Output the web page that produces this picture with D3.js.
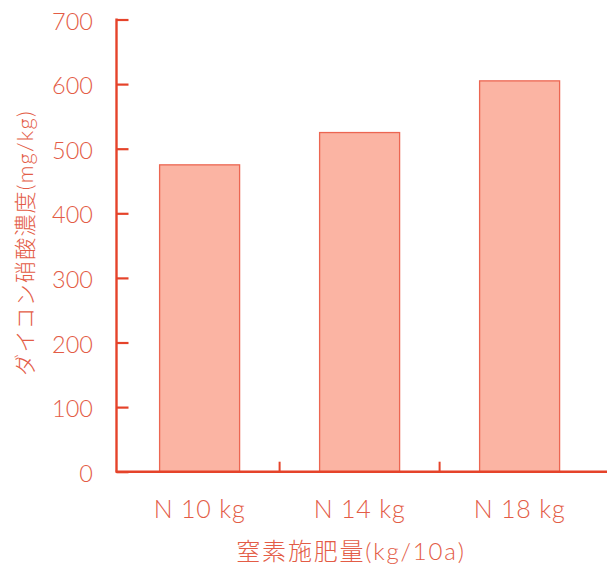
<!DOCTYPE html>
<html><head><meta charset="utf-8">
<script src="https://cdn.jsdelivr.net/npm/d3@7"></script>
<style>
html,body{margin:0;padding:0;background:#fff;}
text{font-family:"Lato","Noto Sans","Noto Sans CJK JP",sans-serif;}
</style></head>
<body><svg id="c" width="607" height="564"></svg>
<script>
const categories = ["N 10 kg", "N 14 kg", "N 18 kg"];
const values = [475, 525, 605];
const yTicks = [0, 100, 200, 300, 400, 500, 600, 700];
const yTitle = "ダイコン硝酸濃度(mg/kg)";
const xTitle = "窒素施肥量(kg/10a)";

const axisColor = "#e5432a", textColor = "#e35c46", barFill = "#fbb4a3", barStroke = "#ec6652";
const svg = d3.select("#c");
const x0 = 116.5, xEnd = 607, yTop = 19.5, yBot = 471.7;

const x = d3.scaleBand().domain(categories).range([119.6, 599.6]).paddingInner(0.5).paddingOuter(0.25);
const y = d3.scaleLinear().domain([0, 700]).range([yBot, yTop]);

// bars
svg.selectAll("rect.bar").data(values).join("rect")
  .attr("class", "bar")
  .attr("x", (d, i) => x(categories[i]))
  .attr("width", x.bandwidth())
  .attr("y", d => y(d))
  .attr("height", d => y(0) - y(d))
  .attr("fill", barFill).attr("stroke", barStroke).attr("stroke-width", 1.3);

// y axis
const yAxis = d3.axisRight(y).tickValues(yTicks).tickSize(12).tickFormat("");
const ga = svg.append("g").attr("transform", `translate(${x0},0)`).call(yAxis);
ga.select(".domain").remove();
ga.selectAll(".tick line").attr("stroke", axisColor).attr("stroke-width", 2.2);
svg.append("line").attr("x1", x0).attr("x2", x0).attr("y1", yTop - 1).attr("y2", yBot)
  .attr("stroke", axisColor).attr("stroke-width", 2.4);
svg.selectAll("text.ytl").data(yTicks).join("text").attr("class", "ytl")
  .attr("x", 93).attr("y", d => y(d) + 10)
  .attr("text-anchor", "end")
  .attr("font-size", 23.5).attr("font-weight", 300).attr("fill", textColor).text(d => d);

// x axis
svg.append("line").attr("x1", x0 - 1).attr("x2", xEnd).attr("y1", yBot).attr("y2", yBot)
  .attr("stroke", axisColor).attr("stroke-width", 2.4);
const step = x.step();
const bounds = categories.slice(1).map(c => x(c) - (step - x.bandwidth()) / 2);
svg.selectAll("line.xt").data(bounds).join("line").attr("class", "xt")
  .attr("x1", d => d).attr("x2", d => d).attr("y1", yBot).attr("y2", yBot - 10)
  .attr("stroke", axisColor).attr("stroke-width", 2);
svg.selectAll("text.xtl").data(categories).join("text").attr("class", "xtl")
  .attr("x", d => x(d) + x.bandwidth() / 2).attr("y", 518)
  .attr("text-anchor", "middle").attr("letter-spacing", 0.8)
  .attr("font-size", 25).attr("font-weight", 300).attr("fill", textColor).text(d => d);

// titles
svg.append("text").attr("x", 351).attr("y", 560).attr("text-anchor", "middle")
  .attr("font-size", 24).attr("letter-spacing", 1.8)
  .attr("font-weight", 300).attr("fill", textColor).text(xTitle);
svg.append("text").attr("transform", "translate(33,243) rotate(-90)").attr("text-anchor", "middle")
  .attr("font-size", 22).attr("letter-spacing", 1.2)
  .attr("font-weight", 300).attr("fill", textColor).text(yTitle);
</script></body></html>
